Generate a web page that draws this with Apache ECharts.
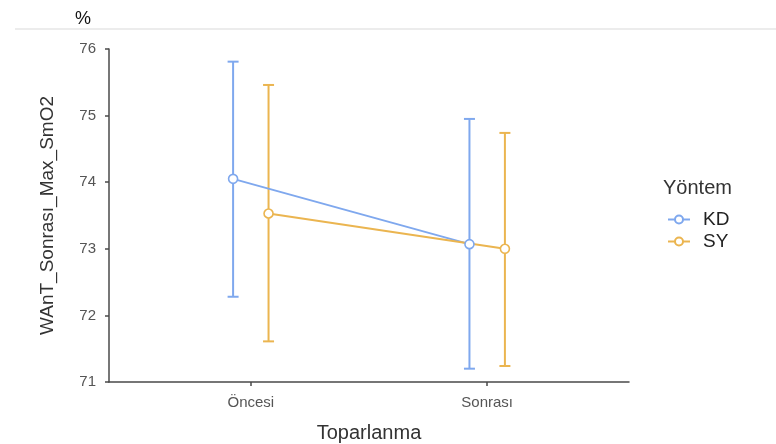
<!DOCTYPE html>
<html>
<head>
<meta charset="utf-8">
<script src="https://cdn.jsdelivr.net/npm/echarts@6/dist/echarts.min.js"></script>
<style>
  html, body { margin: 0; padding: 0; background: #fff; }
  #chart { width: 776px; height: 444px; }
</style>
</head>
<body>
<div id="chart"></div>
<script>
// Recovery phase categories (x axis)
const categories = ['Öncesi', 'Sonrası'];
// Method groups (legend)
const groups = ['KD', 'SY'];
// Means with lower / upper error-bar limits per group, one value per category
const kdMean  = [74.05, 73.07];
const kdLower = [72.28, 71.20];
const kdUpper = [75.81, 74.95];
const syMean  = [73.53, 73.00];
const syLower = [71.61, 71.24];
const syUpper = [75.46, 74.74];
// Y axis ticks
const yTicks = [71, 72, 73, 74, 75, 76];

const colors = { KD: '#7fa8ee', SY: '#ebb550' };
const dodge = 0.075;           // horizontal offset of each group from the category centre
const font = 'Liberation Sans, Arial, Helvetica, sans-serif';

function groupData(mean, lower, upper, sign) {
  return categories.map((c, i) => ({
    x: i + 1 + sign * dodge, mean: mean[i], lo: lower[i], hi: upper[i]
  }));
}
const kd = groupData(kdMean, kdLower, kdUpper, -1);
const sy = groupData(syMean, syLower, syUpper, 1);

// Vertical error bar with short caps, drawn through the axes' coordinate system
function errorSeries(group, rows) {
  const color = colors[group];
  return {
    type: 'custom',
    id: 'err-' + group,
    data: rows.map(r => [r.x, r.lo, r.hi]),
    encode: { x: 0, y: [1, 2] },
    silent: true,
    z: 2,
    renderItem: function (params, api) {
      const x = api.value(0);
      const lo = api.coord([x, api.value(1)]);
      const hi = api.coord([x, api.value(2)]);
      const half = 5.5;
      const style = { stroke: color, lineWidth: 2, fill: null };
      return {
        type: 'group',
        children: [
          { type: 'line', shape: { x1: lo[0], y1: lo[1], x2: hi[0], y2: hi[1] }, style: style },
          { type: 'line', shape: { x1: hi[0] - half, y1: hi[1], x2: hi[0] + half, y2: hi[1] }, style: style },
          { type: 'line', shape: { x1: lo[0] - half, y1: lo[1], x2: lo[0] + half, y2: lo[1] }, style: style }
        ]
      };
    }
  };
}

// Group means joined by a line, hollow circle markers
function meanSeries(group, rows) {
  return {
    type: 'line',
    name: group,
    data: rows.map(r => [r.x, r.mean]),
    symbol: 'circle',
    symbolSize: 9,
    showSymbol: true,
    z: 3,
    lineStyle: { color: colors[group], width: 2 },
    itemStyle: { color: '#ffffff', borderColor: colors[group], borderWidth: 1.6 },
    emphasis: { disabled: true }
  };
}

const chart = echarts.init(document.getElementById('chart'), null, { renderer: 'canvas' });
chart.setOption({
  animation: false,
  backgroundColor: '#ffffff',
  grid: { left: 109, right: 147, top: 49, bottom: 62, containLabel: false, outerBoundsMode: 'none' },
  xAxis: {
    type: 'value',
    min: 0.4,
    max: 2.6,
    splitLine: { show: false },
    axisLine: { show: true, onZero: false, lineStyle: { color: '#4a4a4a', width: 1.5 } },
    axisTick: { show: true, length: 4, lineStyle: { color: '#4a4a4a', width: 1.5 },
                customValues: categories.map((c, i) => i + 1) },
    axisLabel: {
      customValues: categories.map((c, i) => i + 1),
      formatter: v => categories[Math.round(v) - 1] || '',
      color: '#555555', fontSize: 15, fontFamily: font, margin: 13
    },
    name: 'Toparlanma',
    nameLocation: 'middle',
    nameGap: 41,
    nameTextStyle: { color: '#333333', fontSize: 20, fontFamily: font }
  },
  yAxis: {
    type: 'value',
    min: yTicks[0],
    max: yTicks[yTicks.length - 1],
    interval: 1,
    splitLine: { show: false },
    axisLine: { show: true, lineStyle: { color: '#4a4a4a', width: 1.5 } },
    axisTick: { show: true, length: 4, lineStyle: { color: '#4a4a4a', width: 1.5 } },
    axisLabel: { color: '#555555', fontSize: 15, fontFamily: font, margin: 13 },
    name: 'WAnT_Sonrası_Max_SmO2',
    nameLocation: 'middle',
    nameGap: 52,
    nameTextStyle: { color: '#333333', fontSize: 19, fontFamily: font }
  },
  legend: {
    data: groups,
    orient: 'vertical',
    left: 662,
    top: 205,
    itemWidth: 22,
    itemHeight: 10,
    itemGap: 3,
    selectedMode: false,
    textStyle: { color: '#222222', fontSize: 19, fontFamily: font, padding: [0, 0, 0, 8] }
  },
  graphic: [
    { type: 'line', shape: { x1: 15, y1: 29, x2: 776, y2: 29 }, style: { stroke: '#e6e6e6', lineWidth: 1.5 } },
    { type: 'text', left: 75, top: 10, style: { text: '%', fill: '#111111', fontSize: 18, fontFamily: font } },
    { type: 'text', left: 663, top: 178, style: { text: 'Yöntem', fill: '#333333', fontSize: 20, fontFamily: font } }
  ],
  series: [
    errorSeries('KD', kd),
    errorSeries('SY', sy),
    meanSeries('KD', kd),
    meanSeries('SY', sy)
  ]
});
</script>
</body>
</html>
